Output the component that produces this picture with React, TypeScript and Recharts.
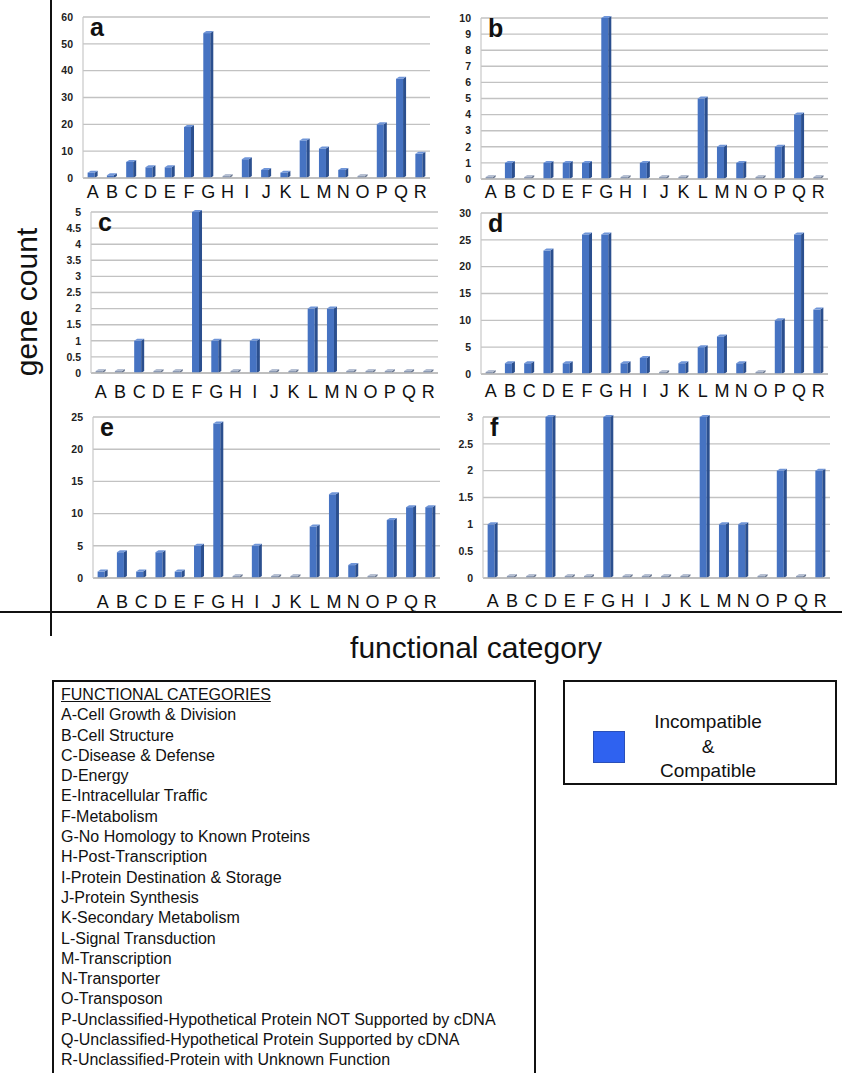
import React from 'react';
import { BarChart, Bar, XAxis, YAxis, CartesianGrid } from 'recharts';

const categories = ['A', 'B', 'C', 'D', 'E', 'F', 'G', 'H', 'I', 'J', 'K', 'L', 'M', 'N', 'O', 'P', 'Q', 'R'];

// gene counts per functional category, one list per panel
const countsA = [2, 1, 6, 4, 4, 19, 54, 0, 7, 3, 2, 14, 11, 3, 0, 20, 37, 9];
const countsB = [0, 1, 0, 1, 1, 1, 10, 0, 1, 0, 0, 5, 2, 1, 0, 2, 4, 0];
const countsC = [0, 0, 1, 0, 0, 5, 1, 0, 1, 0, 0, 2, 2, 0, 0, 0, 0, 0];
const countsD = [0, 2, 2, 23, 2, 26, 26, 2, 3, 0, 2, 5, 7, 2, 0, 10, 26, 12];
const countsE = [1, 4, 1, 4, 1, 5, 24, 0, 5, 0, 0, 8, 13, 2, 0, 9, 11, 11];
const countsF = [1, 0, 0, 3, 0, 0, 3, 0, 0, 0, 0, 3, 1, 1, 0, 2, 0, 2];

const ticksA = [0, 10, 20, 30, 40, 50, 60];
const ticksB = [0, 1, 2, 3, 4, 5, 6, 7, 8, 9, 10];
const ticksC = [0, 0.5, 1, 1.5, 2, 2.5, 3, 3.5, 4, 4.5, 5];
const ticksD = [0, 5, 10, 15, 20, 25, 30];
const ticksE = [0, 5, 10, 15, 20, 25];
const ticksF = [0, 0.5, 1, 1.5, 2, 2.5, 3];

const categoryNames = [
  'A-Cell Growth & Division',
  'B-Cell Structure',
  'C-Disease & Defense',
  'D-Energy',
  'E-Intracellular Traffic',
  'F-Metabolism',
  'G-No Homology to Known Proteins',
  'H-Post-Transcription',
  'I-Protein Destination & Storage',
  'J-Protein Synthesis',
  'K-Secondary Metabolism',
  'L-Signal Transduction',
  'M-Transcription',
  'N-Transporter',
  'O-Transposon',
  'P-Unclassified-Hypothetical Protein NOT Supported by cDNA',
  'Q-Unclassified-Hypothetical Protein Supported by cDNA',
  'R-Unclassified-Protein with Unknown Function',
];

const FONT = '"Liberation Sans", Arial, Helvetica, sans-serif';

// bar with a shaded side and top so it reads like the 3-D column style
function Column(props: any) {
  const { x, y, width, height } = props;
  if (width == null || height == null) return null;
  const d = 3;
  const w = width - d;
  const flat = height <= 2;
  const front = flat ? '#8d9bb5' : '#4673c2';
  const side = flat ? '#6b7890' : '#2b4f8e';
  const top = flat ? '#b5bfd2' : '#6f95d8';
  return (
    <g>
      <rect x={x} y={y} width={w} height={height} fill={front} />
      <polygon
        points={`${x + w},${y + height} ${x + w},${y} ${x + width},${y - d + 1} ${x + width},${y + height - d + 1}`}
        fill={side}
      />
      <polygon
        points={`${x},${y} ${x + w},${y} ${x + width},${y - d + 1} ${x + d},${y - d + 1}`}
        fill={top}
      />
    </g>
  );
}

interface PanelProps {
  label: string;
  counts: number[];
  ticks: number[];
  left: number;
  top: number;
  letterGap: number;
}

function Panel({ label, counts, ticks, left, top, letterGap }: PanelProps) {
  const data = categories.map((category, i) => ({ category, count: counts[i] }));
  const max = ticks[ticks.length - 1];
  return (
    <div style={{ position: 'absolute', left, top }}>
      <BarChart
        width={400}
        height={218}
        data={data}
        margin={{ top: 12, right: 10, left: 0, bottom: 0 }}
        barCategoryGap="24%"
      >
        <CartesianGrid vertical={false} stroke="#c2c2c2" strokeWidth={1.4} />
        <XAxis
          dataKey="category"
          interval={0}
          tickLine={false}
          axisLine={{ stroke: '#b8b8b8', strokeWidth: 1.5 }}
          tickSize={6}
          tickMargin={letterGap}
          height={45}
          tick={{ fontSize: 18, fill: '#111', fontFamily: FONT }}
        />
        <YAxis
          domain={[0, max]}
          ticks={ticks}
          interval={0}
          width={43}
          tickLine={false}
          axisLine={{ stroke: '#c8c8c8', strokeWidth: 1.2 }}
          tickMargin={4}
          tick={{ fontSize: 10.5, fontWeight: 700, fill: '#222', fontFamily: FONT }}
        />
        <Bar dataKey="count" shape={<Column />} minPointSize={2} isAnimationActive={false} />
      </BarChart>
      <div
        style={{
          position: 'absolute',
          left: 50,
          top: 10,
          fontSize: 25,
          fontWeight: 700,
          lineHeight: '25px',
          color: '#111',
          fontFamily: FONT,
        }}
      >
        {label}
      </div>
    </div>
  );
}

export default function App() {
  return (
    <div
      style={{
        position: 'absolute',
        left: 0,
        top: 0,
        width: 842,
        height: 1073,
        background: '#fff',
        fontFamily: FONT,
        color: '#111',
        overflow: 'hidden',
      }}
    >
      <Panel label="a" counts={countsA} ticks={ticksA} left={40} top={5} letterGap={1} />
      <Panel label="b" counts={countsB} ticks={ticksB} left={438} top={6} letterGap={0} />
      <Panel label="c" counts={countsC} ticks={ticksC} left={48} top={200} letterGap={6} />
      <Panel label="d" counts={countsD} ticks={ticksD} left={438} top={201} letterGap={4} />
      <Panel label="e" counts={countsE} ticks={ticksE} left={50} top={405} letterGap={11} />
      <Panel label="f" counts={countsF} ticks={ticksF} left={440} top={405} letterGap={10} />

      {/* outer axes of the whole figure */}
      <div style={{ position: 'absolute', left: 50, top: 0, width: 2, height: 636, background: '#111' }} />
      <div style={{ position: 'absolute', left: 0, top: 611, width: 842, height: 2, background: '#111' }} />

      <div
        style={{
          position: 'absolute',
          left: 27,
          top: 302,
          transform: 'translate(-50%, -50%) rotate(-90deg)',
          fontSize: 30,
          whiteSpace: 'nowrap',
        }}
      >
        gene count
      </div>
      <div
        style={{
          position: 'absolute',
          left: 476,
          top: 648,
          transform: 'translate(-50%, -50%)',
          fontSize: 30,
          whiteSpace: 'nowrap',
        }}
      >
        functional category
      </div>

      {/* category key */}
      <div
        style={{
          position: 'absolute',
          left: 52,
          top: 680,
          width: 473,
          height: 388,
          border: '2px solid #111',
          padding: '3px 0 0 7px',
          boxSizing: 'content-box',
          fontSize: 16,
          lineHeight: '20.3px',
          whiteSpace: 'nowrap',
        }}
      >
        <div style={{ textDecoration: 'underline' }}>FUNCTIONAL CATEGORIES</div>
        {categoryNames.map((name) => (
          <div key={name}>{name}</div>
        ))}
      </div>

      {/* series key */}
      <div
        style={{
          position: 'absolute',
          left: 563,
          top: 680,
          width: 270,
          height: 101,
          border: '2px solid #111',
        }}
      >
        <div
          style={{
            position: 'absolute',
            left: 28,
            top: 49,
            width: 32,
            height: 32,
            background: '#2f62f0',
            border: '1px solid #2a4fb8',
            boxSizing: 'border-box',
          }}
        />
        <div
          style={{
            position: 'absolute',
            left: 78,
            top: 28,
            width: 130,
            textAlign: 'center',
            fontSize: 19,
            lineHeight: '24.5px',
          }}
        >
          <div>Incompatible</div>
          <div>&amp;</div>
          <div>Compatible</div>
        </div>
      </div>
    </div>
  );
}
